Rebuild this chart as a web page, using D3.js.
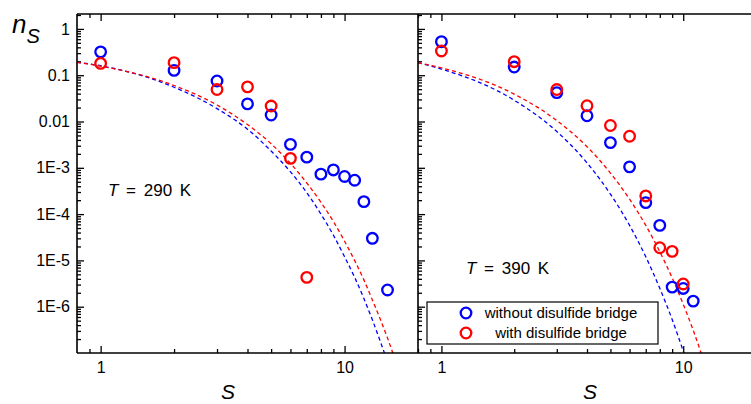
<!DOCTYPE html>
<head>
<style type="text/css">
	body { margin: 0; background: #fff; }
	text { font-family: "Liberation Sans", Arial, sans-serif; fill: #000; }
	.tick line { stroke: #000; stroke-width: 1.3; }
	.frame { stroke: #000; stroke-width: 1.6; fill: none; }
</style>
</head>
<script src="https://d3js.org/d3.v7.min.js"></script>
<body>
	<svg width="751" height="404"></svg>
	<script>
	var sLeftBlue = [1, 2, 3, 4, 5, 6, 7, 8, 9, 10, 11, 12, 13, 15];
	var nLeftBlue = [0.32, 0.127, 0.075, 0.024, 0.0138, 0.0032, 0.0017, 7.3e-4, 9.0e-4, 6.5e-4, 5.4e-4, 1.86e-4, 3.0e-5, 2.3e-6];
	var sLeftRed = [1, 2, 3, 4, 5, 6, 7];
	var nLeftRed = [0.18, 0.187, 0.049, 0.056, 0.0216, 0.0016, 4.3e-6];

	var sRightBlue = [1, 2, 3, 4, 5, 6, 7, 8, 9, 10, 11];
	var nRightBlue = [0.53, 0.15, 0.042, 0.0133, 0.0035, 0.00105, 1.77e-4, 5.7e-5, 2.65e-6, 2.48e-6, 1.32e-6];
	var sRightRed = [1, 2, 3, 4, 5, 6, 7, 8, 9, 10];
	var nRightRed = [0.334, 0.196, 0.049, 0.0219, 0.0082, 0.0048, 2.47e-4, 1.88e-5, 1.57e-5, 3.1e-6];

	// dashed fit curves
	var fitSLeftBlue = [0.8, 1, 2, 3, 4, 5, 6, 7, 8, 9, 10, 11, 12, 13, 14, 15];
	var fitNLeftBlue = [0.19, 0.16, 0.055, 0.019, 0.0068, 0.0023, 8.2e-4, 2.9e-4, 1.0e-4, 3.5e-5, 1.2e-5, 4.3e-6, 1.5e-6, 5.2e-7, 1.8e-7, 6.5e-8];
	var fitSLeftRed = [0.8, 1, 2, 3, 4, 5, 6, 7, 8, 9, 10, 11, 12, 13, 14, 15, 16];
	var fitNLeftRed = [0.19, 0.157, 0.06, 0.0227, 0.0086, 0.0033, 1.25e-3, 4.7e-4, 1.8e-4, 6.9e-5, 2.6e-5, 9.9e-6, 3.8e-6, 1.4e-6, 5.4e-7, 2.1e-7, 8e-8];
	var fitSRightBlue = [0.8, 1, 2, 3, 4, 5, 6, 7, 8, 9, 10, 11];
	var fitNRightBlue = [0.186, 0.136, 0.0288, 6.1e-3, 1.28e-3, 2.7e-4, 5.7e-5, 1.2e-5, 2.5e-6, 5.3e-7, 1.1e-7, 2.4e-8];
	var fitSRightRed = [0.8, 1, 2, 3, 4, 5, 6, 7, 8, 9, 10, 11, 12];
	var fitNRightRed = [0.186, 0.144, 0.039, 0.0105, 2.86e-3, 7.7e-4, 2.1e-4, 5.7e-5, 1.54e-5, 4.2e-6, 1.13e-6, 3.1e-7, 8.3e-8];

	var yTicks = [1e-6, 1e-5, 1e-4, 1e-3, 0.01, 0.1, 1];
	var yTickLabels = ["1E-6", "1E-5", "1E-4", "1E-3", "0.01", "0.1", "1"];
	var xTicks = [1, 10];
	var xTickLabels = ["1", "10"];
	var legendLabels = ["without disulfide bridge", "with disulfide bridge"];
	var tempLabels = ["290 K", "390 K"];

	var svg = d3.select("svg");
	var blue = "#0000ff", red = "#ff0000";

	var plotTop = 14, plotBottom = 353;
	var y = d3.scaleLog().domain([1e-7, 2.1]).range([plotBottom, plotTop]);

	var panels = [
		{ x0: 77, x1: 418, temp: tempLabels[0], tx: 108, ty: 196, labels: true,
		  pts: [[sLeftBlue, nLeftBlue, blue], [sLeftRed, nLeftRed, red]],
		  fits: [[fitSLeftBlue, fitNLeftBlue, blue], [fitSLeftRed, fitNLeftRed, red]], sx: 228, sy: 399 },
		{ x0: 418, x1: 756, temp: tempLabels[1], tx: 466, ty: 274, labels: false,
		  pts: [[sRightBlue, nRightBlue, blue], [sRightRed, nRightRed, red]],
		  fits: [[fitSRightBlue, fitNRightBlue, blue], [fitSRightRed, fitNRightRed, red]], sx: 590, sy: 399 }
	];

	// minor ticks for log axes
	var yMinor = [];
	d3.range(-7, 1).forEach(function(k) {
		d3.range(2, 10).forEach(function(m) {
			var v = m * Math.pow(10, k);
			if (v <= 2.1) yMinor.push(v);
		});
	});
	var xMinor = [0.9, 2, 3, 4, 5, 6, 7, 8, 9, 20];

	panels.forEach(function(p, i) {
		var x = d3.scaleLog().domain([0.8, 20]).range([p.x0, p.x1]);

		svg.append("clipPath").attr("id", "clip" + i)
			.append("rect").attr("x", p.x0).attr("y", plotTop)
			.attr("width", p.x1 - p.x0).attr("height", plotBottom - plotTop);

		// axes: ticks point inward
		var gb = svg.append("g").attr("transform", "translate(0," + plotBottom + ")");
		gb.call(d3.axisBottom(x).tickValues(xMinor).tickSize(-4).tickFormat(""));
		gb.append("g").call(d3.axisBottom(x).tickValues(xTicks).tickSize(-7).tickPadding(9)
			.tickFormat(function(d, j) { return xTickLabels[j]; }))
			.selectAll("text").attr("font-size", 16).attr("font-family", "Liberation Sans, Arial, sans-serif");
		gb.selectAll(".domain").remove();

		var gt = svg.append("g").attr("transform", "translate(0," + plotTop + ")");
		gt.call(d3.axisTop(x).tickValues(xMinor).tickSize(-4).tickFormat(""));
		gt.append("g").call(d3.axisTop(x).tickValues(xTicks).tickSize(-7).tickFormat(""));
		gt.selectAll(".domain").remove();

		var gl = svg.append("g").attr("transform", "translate(" + p.x0 + ",0)");
		gl.call(d3.axisLeft(y).tickValues(yMinor).tickSize(-4).tickFormat(""));
		gl.append("g").call(d3.axisLeft(y).tickValues(yTicks).tickSize(-7).tickPadding(7)
			.tickFormat(function(d, j) { return p.labels ? yTickLabels[j] : ""; }))
			.selectAll("text").attr("font-size", 16).attr("font-family", "Liberation Sans, Arial, sans-serif");
		gl.selectAll(".domain").remove();

		// fit curves
		var line = d3.line()
			.x(function(d) { return x(d[0]); })
			.y(function(d) { return y(d[1]); })
			.curve(d3.curveMonotoneX);
		p.fits.forEach(function(f) {
			svg.append("path")
				.attr("clip-path", "url(#clip" + i + ")")
				.attr("d", line(f[0].map(function(s, k) { return [s, f[1][k]]; })))
				.attr("fill", "none")
				.attr("stroke", f[2])
				.attr("stroke-width", 1.3)
				.attr("stroke-dasharray", "4,3");
		});

		// data points
		p.pts.forEach(function(s) {
			svg.append("g").selectAll("circle")
				.data(s[0].map(function(v, k) { return [v, s[1][k]]; }))
				.enter().append("circle")
				.attr("cx", function(d) { return x(d[0]); })
				.attr("cy", function(d) { return y(d[1]); })
				.attr("r", 5.3)
				.attr("fill", "none")
				.attr("stroke", s[2])
				.attr("stroke-width", 2.3);
		});

		var t = svg.append("text").attr("x", p.tx).attr("y", p.ty)
			.attr("font-size", 17).attr("word-spacing", 3);
		t.append("tspan").attr("font-style", "italic").text("T");
		t.append("tspan").text(" = " + p.temp);

		svg.append("text").attr("x", p.sx).attr("y", p.sy)
			.attr("text-anchor", "middle").attr("font-style", "italic")
			.attr("font-size", 21).text("S");
	});

	// frame
	svg.append("path").attr("class", "frame")
		.attr("d", "M77," + plotTop + "H751M77," + plotBottom + "H751M77," + plotTop + "V" + plotBottom + "M418," + plotTop + "V" + plotBottom);

	// y title
	var yt = svg.append("text").attr("x", 12).attr("y", 33).attr("font-style", "italic");
	yt.append("tspan").attr("font-size", 26).text("n");
	yt.append("tspan").attr("font-size", 20).attr("dy", 10).text("S");

	// legend
	var lg = svg.append("g");
	lg.append("rect").attr("x", 427).attr("y", 302).attr("width", 231).attr("height", 42)
		.attr("fill", "#fff").attr("stroke", "#000").attr("stroke-width", 1.2);
	[blue, red].forEach(function(c, k) {
		lg.append("circle").attr("cx", 466).attr("cy", 313 + k * 20).attr("r", 5.3)
			.attr("fill", "none").attr("stroke", c).attr("stroke-width", 2.3);
		lg.append("text").attr("x", 561).attr("y", 318 + k * 20)
			.attr("text-anchor", "middle").attr("font-size", 15).text(legendLabels[k]);
	});
	</script>
</body>
